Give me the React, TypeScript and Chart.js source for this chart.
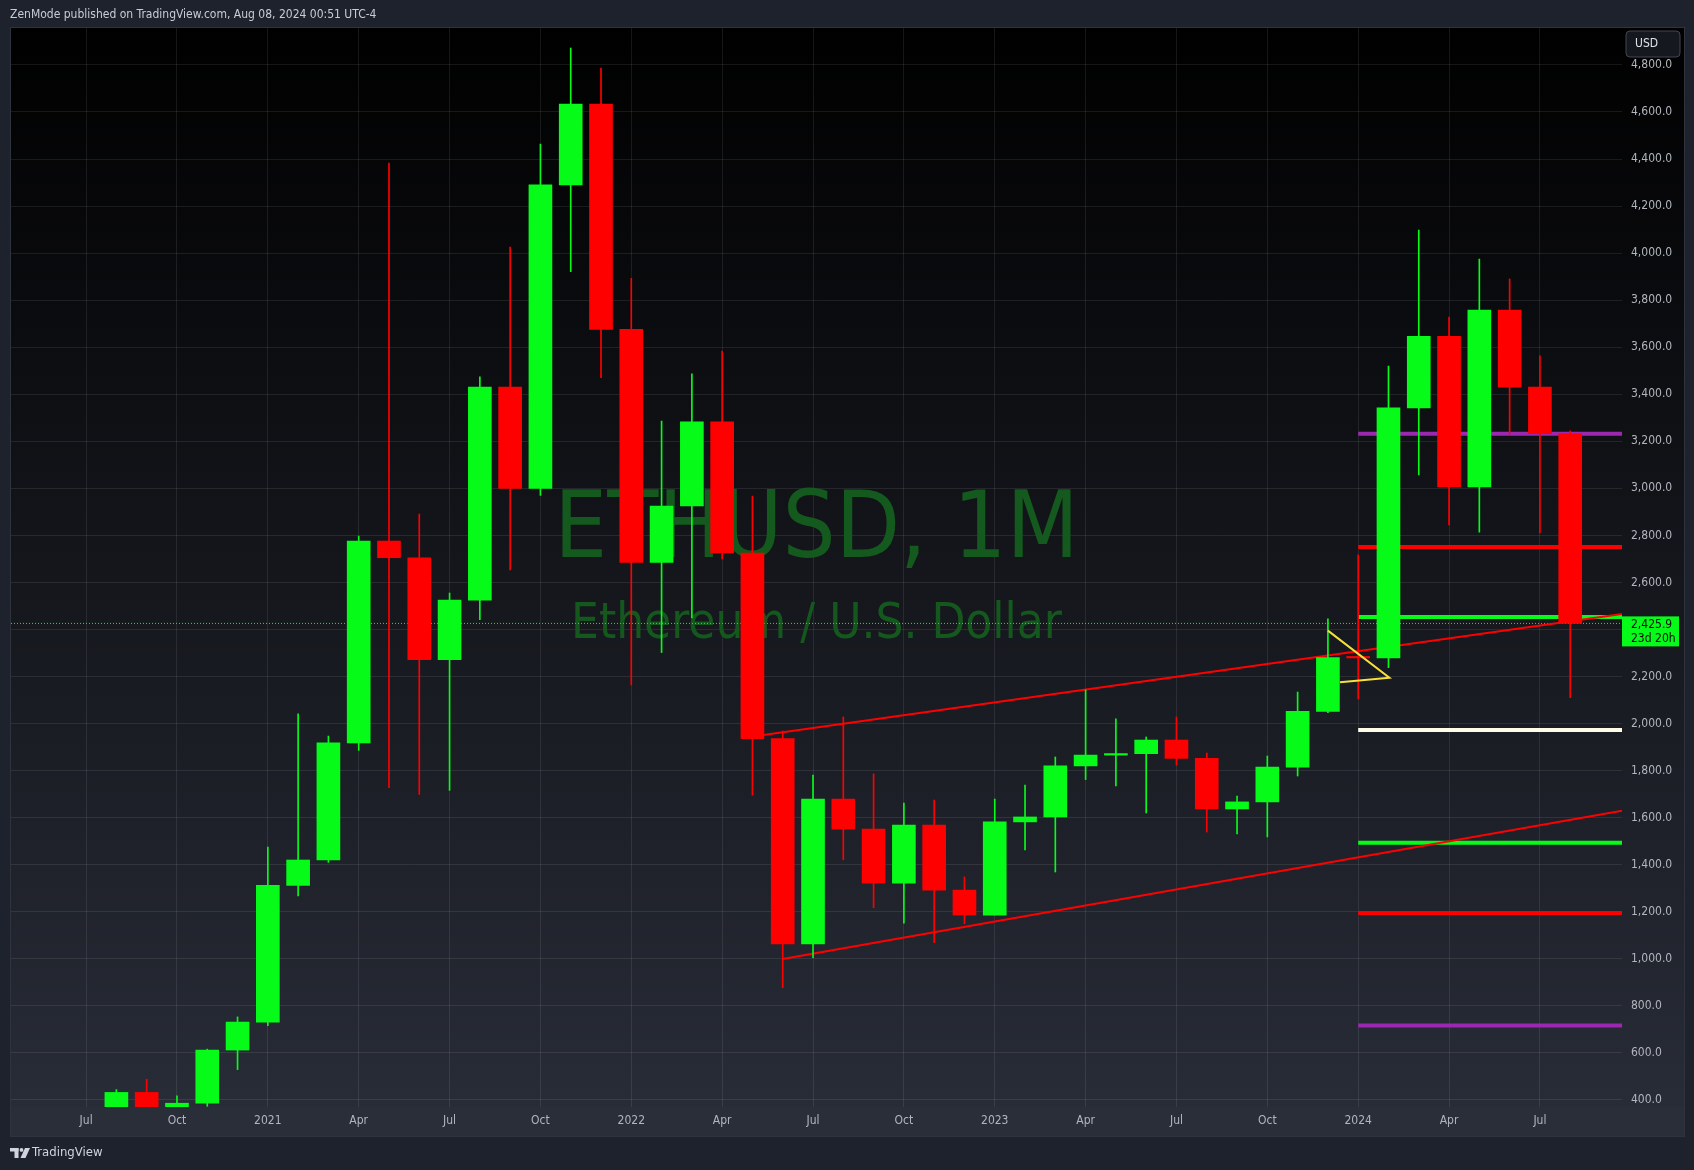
import React, { useEffect, useRef } from 'react';
import { Chart, registerables } from 'chart.js';

Chart.register(...registerables);

const FONT = '"DejaVu Sans Condensed", "DejaVu Sans", sans-serif';

// ---- data (monthly ETHUSD candles) ----
const months = [
  '2020-08', '2020-09', '2020-10', '2020-11', '2020-12',
  '2021-01', '2021-02', '2021-03', '2021-04', '2021-05', '2021-06', '2021-07', '2021-08', '2021-09', '2021-10', '2021-11', '2021-12',
  '2022-01', '2022-02', '2022-03', '2022-04', '2022-05', '2022-06', '2022-07', '2022-08', '2022-09', '2022-10', '2022-11', '2022-12',
  '2023-01', '2023-02', '2023-03', '2023-04', '2023-05', '2023-06', '2023-07', '2023-08', '2023-09', '2023-10', '2023-11', '2023-12',
  '2024-01', '2024-02', '2024-03', '2024-04', '2024-05', '2024-06', '2024-07', '2024-08',
];
const opens = [
  346, 432, 360, 386, 612,
  731, 1312, 1420, 1918, 2776, 2705, 2272, 2525, 3431, 3000, 4290, 4634,
  3676, 2685, 2925, 3283, 2725, 1936, 1063, 1679, 1551, 1322, 1569, 1292,
  1186, 1582, 1603, 1820, 1866, 1872, 1930, 1852, 1637, 1667, 1815, 2052,
  2281, 2279, 3342, 3646, 3006, 3758, 3430, 3232,
];
const highs = [
  444, 488, 418, 616, 753,
  1475, 2041, 1947, 2797, 4383, 2891, 2555, 3474, 4026, 4464, 4872, 4787,
  3893, 3286, 3487, 3584, 2967, 1968, 1781, 2028, 1786, 1662, 1675, 1348,
  1679, 1739, 1858, 2143, 2020, 1943, 2028, 1875, 1692, 1862, 2134, 2445,
  2717, 3520, 4098, 3728, 3975, 3890, 3563, 3244,
];
const lows = [
  355, 309, 334, 373, 529,
  716, 1267, 1410, 1886, 1728, 1699, 1716, 2442, 2653, 2970, 3921, 3471,
  2164, 2302, 2449, 2700, 1696, 877, 1005, 1421, 1217, 1152, 1069, 1149,
  1186, 1463, 1369, 1762, 1735, 1620, 1824, 1539, 1531, 1518, 1777, 2046,
  2105, 2238, 3057, 2844, 2814, 3232, 2810, 2110,
];
const closes = [
  432, 360, 386, 612, 731,
  1312, 1420, 1918, 2776, 2705, 2272, 2525, 3431, 3000, 4290, 4634, 3676,
  2685, 2925, 3283, 2725, 1936, 1063, 1679, 1551, 1322, 1569, 1292, 1186,
  1582, 1603, 1820, 1866, 1872, 1930, 1852, 1637, 1667, 1815, 2052, 2281,
  2279, 3342, 3646, 3006, 3758, 3430, 3232, 2425.9,
];

// time axis ticks (months counted from Jul 2020)
const timeTickValues = [0, 3, 6, 9, 12, 15, 18, 21, 24, 27, 30, 33, 36, 39, 42, 45, 48];
const timeTickLabels = ['Jul', 'Oct', '2021', 'Apr', 'Jul', 'Oct', '2022', 'Apr', 'Jul', 'Oct', '2023', 'Apr', 'Jul', 'Oct', '2024', 'Apr', 'Jul'];
const priceTicks = [400, 600, 800, 1000, 1200, 1400, 1600, 1800, 2000, 2200, 2400, 2600, 2800, 3000, 3200, 3400, 3600, 3800, 4000, 4200, 4400, 4600, 4800];

// drawings
const levelStartMonth = '2024-01';
const levelPrices = [3232, 2751, 2453, 1973, 1493, 1195, 716];
const levelColors = ['#9c27b0', '#ff0000', '#06fc18', '#fffde7', '#06fc18', '#ff0000', '#9c27b0'];
const upperTrendX = [22.36, 50.71];
const upperTrendY = [1951, 2466];
const lowerTrendX = [23.0, 50.71];
const lowerTrendY = [999, 1630];
const yellowX = [41.0, 43.03, 41.4];
const yellowY = [2395, 2195, 2176];

const X_MIN = -2.48;
const X_MAX = 50.71;
const Y_MIN = 370;
const Y_MAX = 4957;

const headerText = 'ZenMode published on TradingView.com, Aug 08, 2024 00:51 UTC-4';
const watermarkTitle = 'ETHUSD, 1M';
const watermarkSub = 'Ethereum / U.S. Dollar';
const countdown = '23d 20h';

const UP = '#06fc18';
const DOWN = '#ff0000';
const GRID = 'rgba(255,255,255,0.085)';

function monthIndex(m: string): number {
  const [y, mo] = m.split('-').map(Number);
  return (y - 2020) * 12 + (mo - 7);
}

function fmtPrice(v: number): string {
  return v.toLocaleString('en-US', { minimumFractionDigits: 1, maximumFractionDigits: 1 });
}

const panePlugin = {
  id: 'panePlugin',
  beforeDraw(chart: any) {
    const { ctx, chartArea, scales } = chart;
    const L = chartArea.left;
    const R = scales.y.right;
    const T = chartArea.top;
    const B = scales.x.bottom;
    ctx.save();
    ctx.fillStyle = '#1e222d';
    ctx.fillRect(0, 0, chart.width, chart.height);
    const g = ctx.createLinearGradient(0, T, 0, chartArea.bottom);
    g.addColorStop(0, '#000000');
    g.addColorStop(1, '#282c37');
    ctx.fillStyle = g;
    ctx.fillRect(L, T, R - L, chartArea.bottom - T);
    ctx.fillStyle = '#2a2e39';
    ctx.fillRect(L, chartArea.bottom, R - L, B - chartArea.bottom);
    ctx.strokeStyle = '#2f333e';
    ctx.lineWidth = 1;
    ctx.strokeRect(L - 0.5, T - 0.5, R - L + 1, B - T + 1);

    // header
    ctx.font = `12px ${FONT}`;
    ctx.fillStyle = '#c9ccd4';
    ctx.textAlign = 'left';
    ctx.textBaseline = 'middle';
    ctx.fillText(headerText, 10, 15);

    // TradingView logo + wordmark
    const lx = L - 1;
    const ly = B + 12;
    ctx.fillStyle = '#d1d4dc';
    ctx.fillRect(lx, ly, 8.5, 3.5);
    ctx.fillRect(lx + 4.5, ly, 4, 10);
    ctx.beginPath();
    ctx.arc(lx + 11.5, ly + 1.9, 1.9, 0, Math.PI * 2);
    ctx.fill();
    ctx.beginPath();
    ctx.moveTo(lx + 15, ly);
    ctx.lineTo(lx + 20, ly);
    ctx.lineTo(lx + 15.5, ly + 10);
    ctx.lineTo(lx + 10.5, ly + 10);
    ctx.closePath();
    ctx.fill();
    ctx.font = `13px ${FONT}`;
    ctx.fillText('TradingView', lx + 22, ly + 5);
    ctx.restore();
  },
  beforeDatasetsDraw(chart: any) {
    const { ctx, chartArea } = chart;
    const cx = (chartArea.left + chartArea.right) / 2;
    const cy = (chartArea.top + chartArea.bottom) / 2;
    ctx.save();
    ctx.textAlign = 'center';
    ctx.textBaseline = 'alphabetic';
    ctx.fillStyle = '#14591d';
    ctx.font = `93px ${FONT}`;
    ctx.fillText(watermarkTitle, cx, cy - 11);
    ctx.fillStyle = '#15581e';
    ctx.font = `49px ${FONT}`;
    ctx.fillText(watermarkSub, cx, cy + 70);
    ctx.restore();
  },
  afterDraw(chart: any) {
    const { ctx, chartArea, scales } = chart;
    ctx.save();
    // USD badge
    ctx.beginPath();
    ctx.roundRect(chartArea.right + 4, chartArea.top + 3, 54, 26, 4);
    ctx.fillStyle = '#15181f';
    ctx.fill();
    ctx.strokeStyle = '#434651';
    ctx.lineWidth = 1;
    ctx.stroke();
    ctx.font = `12px ${FONT}`;
    ctx.fillStyle = '#e0e3eb';
    ctx.textAlign = 'left';
    ctx.textBaseline = 'middle';
    ctx.fillText('USD', chartArea.right + 13, chartArea.top + 16);

    // last price label
    const last = closes[closes.length - 1];
    const py = scales.y.getPixelForValue(last);
    ctx.fillStyle = UP;
    ctx.fillRect(chartArea.right, py - 7, 57, 30);
    ctx.fillStyle = '#0b0b0b';
    ctx.fillText(fmtPrice(last), chartArea.right + 9, py + 1);
    ctx.fillText(countdown, chartArea.right + 9, py + 15);
    ctx.restore();
  },
};

export default function App() {
  const ref = useRef<HTMLCanvasElement>(null);

  useEffect(() => {
    document.body.style.margin = '0';
    document.body.style.background = '#1e222d';
    const canvas = ref.current;
    if (!canvas) return;
    const xs = months.map(monthIndex);
    const colors = closes.map((c, i) => (c >= opens[i] ? UP : DOWN));
    const lastClose = closes[closes.length - 1];
    const levelStart = monthIndex(levelStartMonth);

    const lineBase = { type: 'line', pointRadius: 0, fill: false, tension: 0 };
    const datasets: any[] = [
      {
        ...lineBase,
        data: yellowX.map((x, i) => ({ x, y: yellowY[i] })),
        borderColor: '#f7df3c',
        borderWidth: 2,
        order: 0,
      },
      {
        type: 'bar',
        data: xs.map((x, i) => ({ x, y: [opens[i], closes[i]] })),
        backgroundColor: colors,
        borderWidth: 0,
        barThickness: 23,
        minBarLength: 1.5,
        grouped: false,
        order: 1,
      },
      {
        type: 'bar',
        data: xs.map((x, i) => ({ x, y: [lows[i], highs[i]] })),
        backgroundColor: colors,
        borderWidth: 0,
        barThickness: 1,
        grouped: false,
        order: 2,
      },
      {
        ...lineBase,
        data: upperTrendX.map((x, i) => ({ x, y: upperTrendY[i] })),
        borderColor: '#ff0000',
        borderWidth: 2,
        order: 3,
      },
      {
        ...lineBase,
        data: lowerTrendX.map((x, i) => ({ x, y: lowerTrendY[i] })),
        borderColor: '#ff0000',
        borderWidth: 2,
        order: 3,
      },
      ...levelPrices.map((p, i) => ({
        ...lineBase,
        data: [{ x: levelStart, y: p }, { x: X_MAX, y: p }],
        borderColor: levelColors[i],
        borderWidth: 4,
        borderCapStyle: 'butt',
        order: 4,
      })),
      {
        ...lineBase,
        data: [{ x: X_MIN, y: lastClose }, { x: X_MAX, y: lastClose }],
        borderColor: UP,
        borderWidth: 1,
        borderDash: [1, 2],
        order: 5,
      },
    ];

    const chart = new Chart(canvas, {
      type: 'bar',
      data: { datasets },
      options: {
        animation: false,
        responsive: false,
        devicePixelRatio: 1,
        events: [],
        layout: { padding: { left: 11, top: 28, right: 10, bottom: 34 } },
        plugins: { legend: { display: false }, tooltip: { enabled: false } },
        scales: {
          x: {
            type: 'linear',
            min: X_MIN,
            max: X_MAX,
            offset: false,
            afterBuildTicks: (s: any) => {
              s.ticks = timeTickValues.map((v) => ({ value: v }));
            },
            afterFit: (s: any) => {
              s.height = 29;
            },
            grid: { color: GRID, drawTicks: false, offset: false, lineWidth: 1 },
            border: { display: false },
            ticks: {
              color: '#b2b5be',
              font: { family: FONT, size: 12 },
              padding: 7,
              autoSkip: false,
              maxRotation: 0,
              callback: (v: any) => {
                const k = timeTickValues.indexOf(Number(v));
                return k >= 0 ? timeTickLabels[k] : '';
              },
            },
          },
          y: {
            type: 'linear',
            position: 'right',
            min: Y_MIN,
            max: Y_MAX,
            afterBuildTicks: (s: any) => {
              s.ticks = priceTicks.map((v) => ({ value: v }));
            },
            afterFit: (s: any) => {
              s.width = 62;
            },
            grid: { color: GRID, drawTicks: false, lineWidth: 1 },
            border: { display: false },
            ticks: {
              color: '#b2b5be',
              font: { family: FONT, size: 12 },
              padding: 9,
              callback: (v: any) => fmtPrice(Number(v)),
            },
          },
        },
      } as any,
      plugins: [panePlugin],
    });
    return () => chart.destroy();
  }, []);

  return (
    <div style={{ position: 'absolute', left: 0, top: 0, width: 1694, height: 1170, background: '#1e222d' }}>
      <canvas ref={ref} width={1694} height={1170} style={{ display: 'block', width: 1694, height: 1170 }} />
    </div>
  );
}
